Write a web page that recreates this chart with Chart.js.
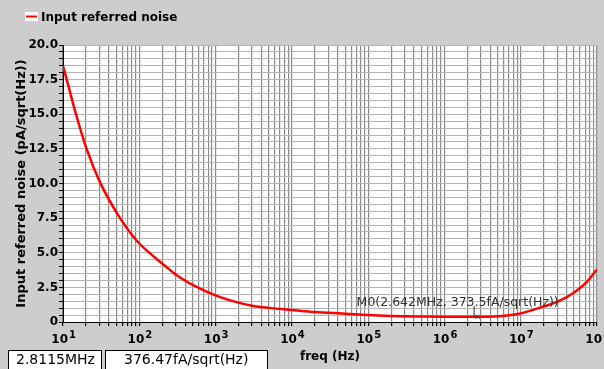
<!DOCTYPE html>
<html>
<head>
<meta charset="utf-8">
<script src="https://cdn.jsdelivr.net/npm/chart.js@4.4.1/dist/chart.umd.min.js"></script>
<style>
  html, body { margin: 0; padding: 0; background: #cdcdcd; }
</style>
</head>
<body>
<canvas id="noiseChart" width="604" height="369"></canvas>
<script>
// Input referred noise vs frequency
const freqHz = [10, 11.2, 14.8, 20.4, 30.5, 55.9, 92.5, 160, 217, 294, 438, 726, 1200, 1990, 3000, 5000,
  1e4, 2e4, 5e4, 1e5, 2e5, 5e5, 1e6, 2.642e6, 5e6, 1e7, 1.8e7, 3.2e7, 4.9e7, 7.2e7, 1e8];
const noisePA = [18.5, 17.5, 15.0, 12.5, 10.1, 7.5, 5.87, 4.66, 4.06, 3.46, 2.85, 2.25, 1.76, 1.4, 1.18, 1.02,
  0.87, 0.72, 0.6, 0.5, 0.44, 0.4, 0.38, 0.3735, 0.42, 0.62, 1.04, 1.52, 2.1, 2.85, 3.8];

// tick labels
const yMajor = [0, 2.5, 5, 7.5, 10, 12.5, 15, 17.5, 20];
const yLabels = ['0', '2.5', '5.0', '7.5', '10.0', '12.5', '15.0', '17.5', '20.0'];
const xDecades = [1, 2, 3, 4, 5, 6, 7, 8];

// marker + readout
const markerFreq = 2.642e6;
const markerValue = 0.3735;
const markerText = 'M0(2.642MHz, 373.5fA/sqrt(Hz))';
const readout = ['2.8115MHz', '376.47fA/sqrt(Hz)'];

const seriesName = 'Input referred noise';
const FONT = '"DejaVu Sans", sans-serif';

const decor = {
  id: 'decor',
  beforeDraw(chart) {
    const { ctx, chartArea: a } = chart;
    ctx.save();
    ctx.fillStyle = '#ffffff';
    ctx.fillRect(a.left, a.top, a.right - a.left, a.bottom - a.top);
    ctx.restore();
  },
  afterDraw(chart) {
    const { ctx, scales: { x, y } } = chart;
    ctx.save();

    // legend
    ctx.fillStyle = '#ffffff';
    ctx.fillRect(25, 12, 13, 9);
    ctx.strokeStyle = '#ff0000';
    ctx.lineWidth = 2;
    ctx.beginPath();
    ctx.moveTo(26, 16.5);
    ctx.lineTo(37, 16.5);
    ctx.stroke();
    ctx.fillStyle = '#000';
    ctx.font = 'bold 12px ' + FONT;
    ctx.textAlign = 'left';
    ctx.textBaseline = 'alphabetic';
    ctx.fillText(seriesName, 41, 21);

    // decade labels 10^n
    xDecades.forEach(e => {
      const px = x.getPixelForValue(Math.pow(10, e));
      ctx.font = 'bold 12px ' + FONT;
      ctx.textAlign = 'right';
      ctx.fillText('10', px + 5, 343);
      ctx.font = 'bold 10px ' + FONT;
      ctx.textAlign = 'left';
      ctx.fillText(String(e), px + 6, 338);
    });

    // marker M0
    const mx = x.getPixelForValue(markerFreq);
    const my = y.getPixelForValue(markerValue);
    ctx.strokeStyle = '#333';
    ctx.lineWidth = 1;
    ctx.beginPath();
    ctx.moveTo(mx - 2.5, my - 11);
    ctx.lineTo(mx - 2.5, my + 1);
    ctx.moveTo(mx - 1, my - 2);
    ctx.lineTo(mx + 3, my + 2);
    ctx.moveTo(mx + 3, my - 2);
    ctx.lineTo(mx - 1, my + 2);
    ctx.stroke();
    ctx.fillStyle = '#333';
    ctx.font = '12.5px ' + FONT;
    ctx.textAlign = 'left';
    ctx.fillText(markerText, mx - 120, my - 11);

    // readout boxes
    ctx.fillStyle = '#ffffff';
    ctx.strokeStyle = '#000';
    ctx.fillRect(8, 350, 94, 22);
    ctx.strokeRect(8.5, 350.5, 93, 22);
    ctx.fillRect(105, 350, 163, 22);
    ctx.strokeRect(105.5, 350.5, 162, 22);
    ctx.fillStyle = '#000';
    ctx.font = '14px ' + FONT;
    ctx.fillText(readout[0], 16, 364);
    ctx.fillText(readout[1], 124, 364);
    ctx.restore();
  }
};

new Chart(document.getElementById('noiseChart').getContext('2d'), {
  type: 'line',
  data: {
    datasets: [{
      label: seriesName,
      data: freqHz.map((f, i) => ({ x: f, y: noisePA[i] })),
      borderColor: '#ff0000',
      borderWidth: 2.5,
      pointRadius: 0,
      cubicInterpolationMode: 'monotone',
      fill: false
    }]
  },
  options: {
    responsive: false,
    animation: false,
    layout: { padding: { left: 0, right: 7, top: 45, bottom: 0 } },
    plugins: {
      legend: { display: false },
      tooltip: { enabled: false }
    },
    scales: {
      x: {
        type: 'logarithmic',
        min: 10,
        max: 1e8,
        afterBuildTicks(scale) {
          const ticks = [];
          for (let e = 1; e < 8; e++) {
            for (let m = 1; m < 10; m++) ticks.push({ value: m * Math.pow(10, e) });
          }
          ticks.push({ value: 1e8 });
          scale.ticks = ticks;
        },
        afterFit(scale) { scale.height = 47; },
        ticks: { display: false },
        grid: {
          color: '#8a8a8a',
          lineWidth: 1.2,
          tickLength: 4,
          tickColor: '#000'
        },
        border: { color: '#000', width: 1 },
        title: {
          display: true,
          text: 'freq (Hz)',
          color: '#000',
          font: { family: FONT, size: 12, weight: 'bold' },
          padding: { top: 0, bottom: 5 }
        }
      },
      y: {
        min: 0,
        max: 20,
        afterBuildTicks(scale) {
          const ticks = [];
          for (let k = 0; k <= 40; k++) ticks.push({ value: k * 0.5 });
          scale.ticks = ticks;
        },
        afterFit(scale) { scale.width = 63; },
        ticks: {
          autoSkip: false,
          padding: 1,
          color: '#000',
          font: { family: FONT, size: 12, weight: 'bold' },
          callback: (v) => {
            const i = yMajor.indexOf(v);
            return i >= 0 ? yLabels[i] : '';
          }
        },
        grid: {
          color: '#b4b4b4',
          lineWidth: 1,
          tickLength: 4,
          tickColor: '#000'
        },
        border: { color: '#000', width: 1 },
        title: {
          display: true,
          text: 'Input referred noise (pA/sqrt(Hz))',
          color: '#000',
          font: { family: FONT, size: 13, weight: 'bold' },
          padding: { top: 14, bottom: 0 }
        }
      }
    }
  },
  plugins: [decor]
});
</script>
</body>
</html>
